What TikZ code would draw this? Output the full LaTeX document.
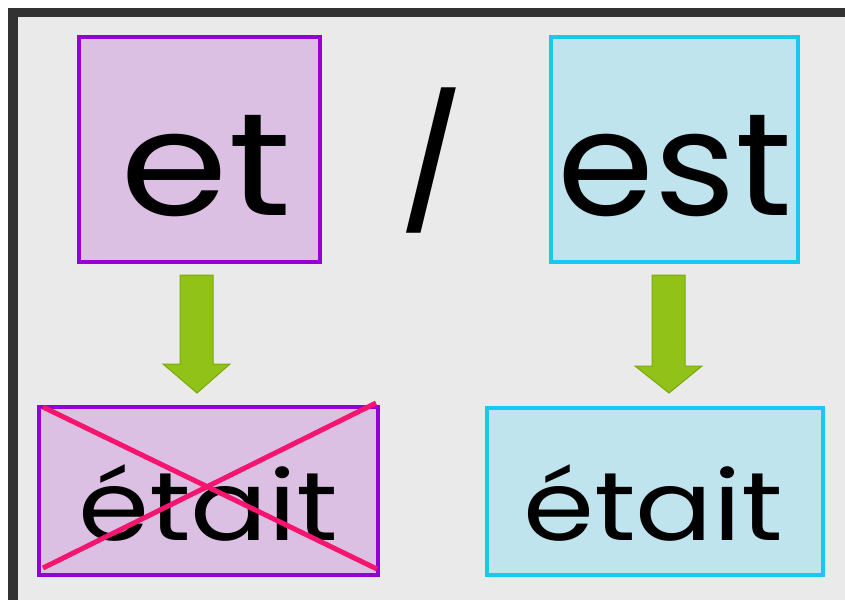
\documentclass[tikz,border=0pt]{standalone}
\usepackage{fontspec}
\setmainfont{Poppins}
\newfontfamily\etfont{Poppins}[FakeStretch=1.19]
\newfontfamily\estfont{Poppins}[FakeStretch=1.07]
\newfontfamily\etaitfont{Poppins}[FakeStretch=1.18]
\newfontfamily\slashfont{Poppins}[UprightFont={* Medium}]
\definecolor{bgc}{RGB}{234,234,234}
\definecolor{framec}{RGB}{50,50,50}
\definecolor{purpline}{RGB}{150,0,210}
\definecolor{purpfill}{RGB}{220,192,228}
\definecolor{cyanline}{RGB}{25,200,240}
\definecolor{cyanfill}{RGB}{192,228,238}
\definecolor{greenfill}{RGB}{145,194,24}
\definecolor{greenline}{RGB}{122,168,12}
\definecolor{crossc}{RGB}{245,20,110}
\tikzset{
  pbox/.style={draw=purpline, fill=purpfill, line width=3.5pt, inner sep=0pt},
  cbox/.style={draw=cyanline, fill=cyanfill, line width=3.5pt, inner sep=0pt},
  bigword/.style={anchor=base, inner sep=0pt},
  smallword/.style={anchor=base, inner sep=0pt, font=\etaitfont\fontsize{97}{97}\selectfont},
  blockarrow/.style={fill=greenfill, draw=greenline, line width=1pt, line join=miter},
  crossline/.style={draw=crossc, line width=5pt}
}
\begin{document}
\begin{tikzpicture}[x=1pt,y=-1pt]
\useasboundingbox (0,0) rectangle (845,600);
\fill[white] (0,0) rectangle (845,600);
\fill[framec] (8,8) rectangle (845,600);
\fill[bgc] (18,17) rectangle (845,600);
% top boxes
\node[pbox, minimum width=241pt, minimum height=225pt] (etbox) at (199.5,149.5) {};
\node[cbox, minimum width=247pt, minimum height=225pt] (estbox) at (674.5,149.5) {};
\node[bigword, font=\etfont\fontsize{146}{146}\selectfont] (et) at (206,215) {et};
\node[bigword, font=\estfont\fontsize{146}{146}\selectfont] (est) at (675,215) {est};
\node[anchor=base, inner sep=0pt, font=\slashfont\fontsize{130}{130}\selectfont] (slash) at (432,210) {/};
% bottom boxes
\node[pbox, minimum width=339pt, minimum height=168pt] (wrongbox) at (208.5,491) {};
\node[cbox, minimum width=336pt, minimum height=167pt] (rightbox) at (655,491.5) {};
\node[smallword] (etait1) at (208,540) {était};
\node[smallword] (etait2) at (653,540) {était};
% cross
\draw[crossline] (43,407) -- (377,569);
\draw[crossline] (43,568) -- (376,403);
% block arrows
\draw[blockarrow] (180,275) -- (213,275) -- (213,364) -- (230,364) -- (197,393) -- (163,364) -- (180,364) -- cycle;
\draw[blockarrow] (652,275) -- (685,275) -- (685,366) -- (702,366) -- (669,393) -- (635,366) -- (652,366) -- cycle;
\end{tikzpicture}
\end{document}
